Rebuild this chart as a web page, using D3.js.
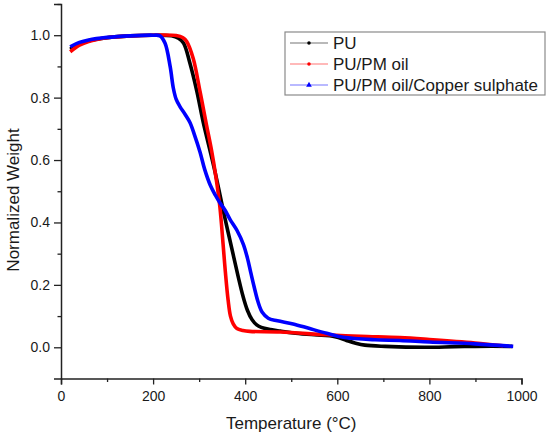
<!DOCTYPE html>
<html>
<head>
<meta charset="utf-8">
<script src="https://cdn.jsdelivr.net/npm/d3@7"></script>
<style>
  body { margin: 0; background: #fff; }
  text { font-family: "Liberation Sans", Arial, sans-serif; fill: #1a1a1a; }
</style>
</head>
<body>
<div id="chart"></div>
<script>
// series names, in legend order
var seriesNames = ["PU", "PU/PM oil", "PU/PM oil/Copper sulphate"];
var seriesColors = ["#000000", "#ff0000", "#0000ff"];

// temperature (°C) / normalized weight
var puTemp = [20, 40, 60, 100, 150, 200, 240, 255, 266, 280, 295, 309, 322, 334, 345, 355, 365, 375, 385, 395, 405, 415, 425, 435, 455, 476, 504, 550, 595, 620, 638, 660, 704, 790, 855, 900, 980];
var puWeight = [0.955, 0.972, 0.982, 0.992, 0.998, 1.0, 0.998, 0.99, 0.975, 0.91, 0.82, 0.72, 0.64, 0.565, 0.49, 0.42, 0.355, 0.29, 0.225, 0.165, 0.118, 0.088, 0.072, 0.064, 0.057, 0.052, 0.046, 0.04, 0.034, 0.022, 0.014, 0.007, 0.003, 0.0, 0.002, 0.003, 0.003];

var oilTemp = [20, 40, 60, 100, 150, 200, 250, 265, 273, 287, 302, 316, 327, 336, 345, 352, 357, 363, 368, 374, 382, 395, 410, 476, 577, 650, 736, 800, 899, 960];
var oilWeight = [0.947, 0.968, 0.98, 0.992, 0.998, 1.0, 0.999, 0.992, 0.98, 0.926, 0.819, 0.712, 0.63, 0.55, 0.45, 0.33, 0.24, 0.15, 0.10, 0.075, 0.06, 0.054, 0.051, 0.049, 0.04, 0.035, 0.031, 0.025, 0.014, 0.005];

var cuTemp = [20, 40, 60, 100, 150, 200, 215, 226, 237, 244, 250, 258, 270, 280, 290, 302, 312, 324, 335, 345, 356, 367, 382, 396, 405, 412, 420, 428, 437, 450, 470, 504, 540, 577, 613, 682, 736, 800, 899, 982];
var cuWeight = [0.963, 0.977, 0.985, 0.993, 0.998, 1.0, 0.998, 0.974, 0.90, 0.83, 0.795, 0.772, 0.745, 0.72, 0.68, 0.625, 0.57, 0.52, 0.488, 0.463, 0.44, 0.41, 0.375, 0.33, 0.285, 0.24, 0.19, 0.145, 0.112, 0.093, 0.085, 0.075, 0.06, 0.045, 0.032, 0.024, 0.022, 0.017, 0.011, 0.003];

var xMajor = [0, 200, 400, 600, 800, 1000];
var xMinor = [100, 300, 500, 700, 900];
var yMajor = [0.0, 0.2, 0.4, 0.6, 0.8, 1.0];
var yMinor = [0.1, 0.3, 0.5, 0.7, 0.9, 1.1];

var series = [
  {name: seriesNames[0], color: seriesColors[0], marker: "circle", t: puTemp, w: puWeight},
  {name: seriesNames[1], color: seriesColors[1], marker: "circle", t: oilTemp, w: oilWeight},
  {name: seriesNames[2], color: seriesColors[2], marker: "triangle", t: cuTemp, w: cuWeight}
];

var width = 550, height = 438;
var margin = {top: 4, right: 28.5, bottom: 59.5, left: 61};

var x = d3.scaleLinear().domain([0, 1000]).range([margin.left, width - margin.right]);
var y = d3.scaleLinear().domain([-0.1, 1.1]).range([height - margin.bottom, margin.top]);

var svg = d3.select("#chart").append("svg")
  .attr("width", width)
  .attr("height", height);

svg.append("rect").attr("width", width).attr("height", height).attr("fill", "#fff");

// curves
var line = d3.line()
  .x(function(d) { return x(d[0]); })
  .y(function(d) { return y(d[1]); })
  .curve(d3.curveCatmullRom.alpha(0.5));

series.forEach(function(s) {
  var pts = s.t.map(function(t, i) { return [t, s.w[i]]; });
  svg.append("path")
    .datum(pts)
    .attr("fill", "none")
    .attr("stroke", s.color)
    .attr("stroke-width", 3.6)
    .attr("stroke-linejoin", "round")
    .attr("d", line);
});

// axes
var axisColor = "#222";
svg.append("g")
  .attr("transform", "translate(0," + y(-0.1) + ")")
  .call(d3.axisBottom(x).tickValues(xMajor).tickSize(6).tickPadding(7).tickFormat(d3.format("d")));
svg.append("g")
  .attr("transform", "translate(0," + y(-0.1) + ")")
  .call(d3.axisBottom(x).tickValues(xMinor).tickSize(3.5).tickFormat(""))
  .select(".domain").remove();

svg.append("g")
  .attr("transform", "translate(" + x(0) + ",0)")
  .call(d3.axisLeft(y).tickValues(yMajor).tickSize(7).tickPadding(4).tickFormat(d3.format(".1f")));
svg.append("g")
  .attr("transform", "translate(" + x(0) + ",0)")
  .call(d3.axisLeft(y).tickValues(yMinor).tickSize(3.5).tickFormat(""))
  .select(".domain").remove();

svg.selectAll(".domain").attr("stroke", axisColor).attr("stroke-width", 1.5);
svg.selectAll(".tick line").attr("stroke", axisColor).attr("stroke-width", 1.3);
svg.selectAll(".tick text")
  .attr("font-family", "Liberation Sans, Arial, sans-serif")
  .attr("font-size", 14)
  .attr("fill", "#1a1a1a");

// titles
svg.append("text")
  .attr("x", x(500))
  .attr("y", 429)
  .attr("text-anchor", "middle")
  .attr("font-size", 17)
  .text("Temperature (°C)");

svg.append("text")
  .attr("transform", "translate(19,200) rotate(-90)")
  .attr("text-anchor", "middle")
  .attr("font-size", 17)
  .text("Normalized Weight");

// legend
var legend = svg.append("g").attr("transform", "translate(285,32)");
legend.append("rect")
  .attr("width", 260).attr("height", 63)
  .attr("fill", "#fff")
  .attr("stroke", "#8a8a8a")
  .attr("stroke-width", 1.2);

var rows = legend.selectAll("g.row")
  .data(series)
  .enter().append("g")
  .attr("class", "row")
  .attr("transform", function(d, i) { return "translate(0," + (11 + i * 21) + ")"; });

rows.append("line")
  .attr("x1", 5).attr("x2", 43)
  .attr("stroke", function(d) { return d.color; })
  .attr("stroke-opacity", 0.55)
  .attr("stroke-width", 1.2);

rows.append("path")
  .attr("transform", "translate(24,0)")
  .attr("fill", function(d) { return d.color; })
  .attr("d", function(d) {
    return d3.symbol().type(d.marker == "triangle" ? d3.symbolTriangle : d3.symbolCircle).size(d.marker == "triangle" ? 14 : 10)();
  });

rows.append("text")
  .attr("x", 48)
  .attr("dy", "0.36em")
  .attr("font-size", 17)
  .text(function(d) { return d.name; });
</script>
</body>
</html>
